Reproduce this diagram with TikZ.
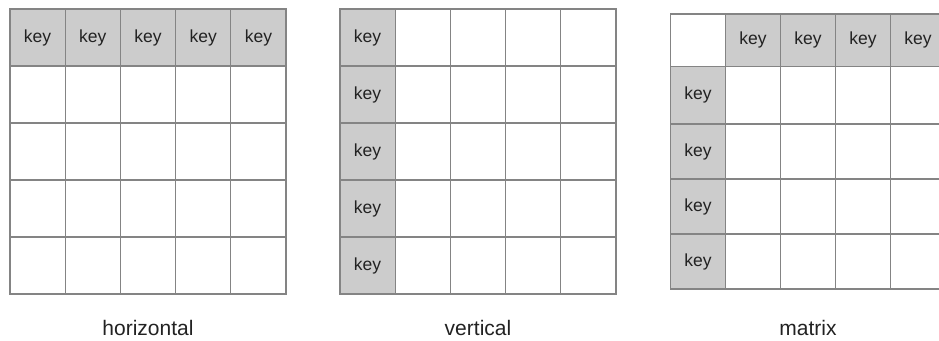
\documentclass[tikz,border=0pt]{standalone}
\usepackage{fontspec}
\setmainfont{Liberation Sans}
\usepackage{tikz}
\definecolor{keygray}{RGB}{204,204,204}
\definecolor{linegray}{RGB}{132,132,132}
\definecolor{textgray}{RGB}{34,34,34}

\begin{document}
\begin{tikzpicture}[x=1pt, y=-1pt,
			keycell/.style={draw=linegray, fill=keygray, text=textgray, minimum width=55.2pt, minimum height=57pt, inner sep=0pt, line width=1.2pt, font=\fontsize{17.5}{20}\selectfont},
			emptycell/.style={draw=linegray, fill=white, minimum width=55.2pt, minimum height=57pt, inner sep=0pt, line width=1.2pt},
			caption/.style={text=textgray, font=\fontsize{21}{24}\selectfont}
		]
		\useasboundingbox (0,0) rectangle (939,340);
		\clip (0,0) rectangle (939,340);

		% horizontal
		\node[keycell] (h11) at (37.6,37.5) {key};
		\node[keycell] (h12) at (92.8,37.5) {key};
		\node[keycell] (h13) at (148,37.5) {key};
		\node[keycell] (h14) at (203.2,37.5) {key};
		\node[keycell] (h15) at (258.4,37.5) {key};

		\node[emptycell] (h21) at (37.6,94.5) {};
		\node[emptycell] (h22) at (92.8,94.5) {};
		\node[emptycell] (h23) at (148,94.5) {};
		\node[emptycell] (h24) at (203.2,94.5) {};
		\node[emptycell] (h25) at (258.4,94.5) {};

		\node[emptycell] (h31) at (37.6,151.5) {};
		\node[emptycell] (h32) at (92.8,151.5) {};
		\node[emptycell] (h33) at (148,151.5) {};
		\node[emptycell] (h34) at (203.2,151.5) {};
		\node[emptycell] (h35) at (258.4,151.5) {};

		\node[emptycell] (h41) at (37.6,208.5) {};
		\node[emptycell] (h42) at (92.8,208.5) {};
		\node[emptycell] (h43) at (148,208.5) {};
		\node[emptycell] (h44) at (203.2,208.5) {};
		\node[emptycell] (h45) at (258.4,208.5) {};

		\node[emptycell] (h51) at (37.6,265.5) {};
		\node[emptycell] (h52) at (92.8,265.5) {};
		\node[emptycell] (h53) at (148,265.5) {};
		\node[emptycell] (h54) at (203.2,265.5) {};
		\node[emptycell] (h55) at (258.4,265.5) {};

		% vertical
		\node[keycell] (v11) at (367.6,37.5) {key};
		\node[emptycell] (v12) at (422.8,37.5) {};
		\node[emptycell] (v13) at (478,37.5) {};
		\node[emptycell] (v14) at (533.2,37.5) {};
		\node[emptycell] (v15) at (588.4,37.5) {};

		\node[keycell] (v21) at (367.6,94.5) {key};
		\node[emptycell] (v22) at (422.8,94.5) {};
		\node[emptycell] (v23) at (478,94.5) {};
		\node[emptycell] (v24) at (533.2,94.5) {};
		\node[emptycell] (v25) at (588.4,94.5) {};

		\node[keycell] (v31) at (367.6,151.5) {key};
		\node[emptycell] (v32) at (422.8,151.5) {};
		\node[emptycell] (v33) at (478,151.5) {};
		\node[emptycell] (v34) at (533.2,151.5) {};
		\node[emptycell] (v35) at (588.4,151.5) {};

		\node[keycell] (v41) at (367.6,208.5) {key};
		\node[emptycell] (v42) at (422.8,208.5) {};
		\node[emptycell] (v43) at (478,208.5) {};
		\node[emptycell] (v44) at (533.2,208.5) {};
		\node[emptycell] (v45) at (588.4,208.5) {};

		\node[keycell] (v51) at (367.6,265.5) {key};
		\node[emptycell] (v52) at (422.8,265.5) {};
		\node[emptycell] (v53) at (478,265.5) {};
		\node[emptycell] (v54) at (533.2,265.5) {};
		\node[emptycell] (v55) at (588.4,265.5) {};

		% matrix
		\node[emptycell, minimum height=52.7pt] (m11) at (698,40.3) {};
		\node[keycell, minimum height=52.7pt] (m12) at (753,40.3) {key};
		\node[keycell, minimum height=52.7pt] (m13) at (808,40.3) {key};
		\node[keycell, minimum height=52.7pt] (m14) at (863,40.3) {key};
		\node[keycell, minimum height=52.7pt] (m15) at (918,40.3) {key};

		\node[keycell, minimum height=57.3pt] (m21) at (698,95.3) {key};
		\node[emptycell, minimum height=57.3pt] (m22) at (753,95.3) {};
		\node[emptycell, minimum height=57.3pt] (m23) at (808,95.3) {};
		\node[emptycell, minimum height=57.3pt] (m24) at (863,95.3) {};
		\node[emptycell, minimum height=57.3pt] (m25) at (918,95.3) {};

		\node[keycell, minimum height=55pt] (m31) at (698,151.5) {key};
		\node[emptycell, minimum height=55pt] (m32) at (753,151.5) {};
		\node[emptycell, minimum height=55pt] (m33) at (808,151.5) {};
		\node[emptycell, minimum height=55pt] (m34) at (863,151.5) {};
		\node[emptycell, minimum height=55pt] (m35) at (918,151.5) {};

		\node[keycell, minimum height=55pt] (m41) at (698,206.5) {key};
		\node[emptycell, minimum height=55pt] (m42) at (753,206.5) {};
		\node[emptycell, minimum height=55pt] (m43) at (808,206.5) {};
		\node[emptycell, minimum height=55pt] (m44) at (863,206.5) {};
		\node[emptycell, minimum height=55pt] (m45) at (918,206.5) {};

		\node[keycell, minimum height=55pt] (m51) at (698,261.5) {key};
		\node[emptycell, minimum height=55pt] (m52) at (753,261.5) {};
		\node[emptycell, minimum height=55pt] (m53) at (808,261.5) {};
		\node[emptycell, minimum height=55pt] (m54) at (863,261.5) {};
		\node[emptycell, minimum height=55pt] (m55) at (918,261.5) {};

		\node[caption] (hlabel) at (148,328) {horizontal};
		\node[caption] (vlabel) at (478,328) {vertical};
		\node[caption] (mlabel) at (808,328) {matrix};
	\end{tikzpicture}
\end{document}
